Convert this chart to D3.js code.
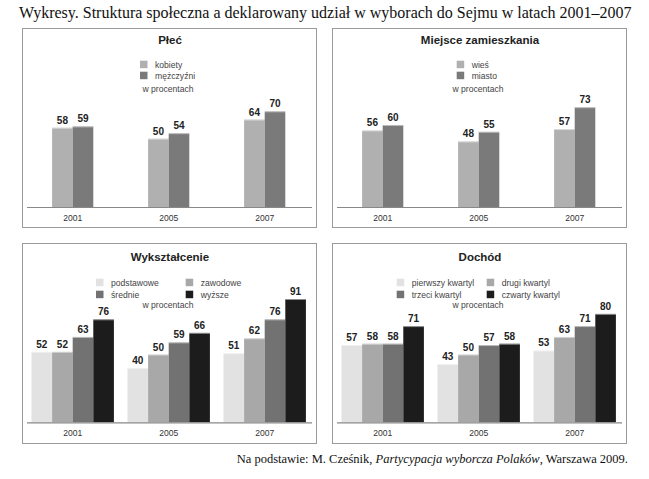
<!DOCTYPE html>
<html><head><meta charset="utf-8">
<script src="https://cdn.jsdelivr.net/npm/d3@7/dist/d3.min.js"></script>
<style>body{margin:0;background:#fff;} svg{display:block;}</style>
</head><body>
<script>
const years = ["2001", "2005", "2007"];

const plecTitle = "Płeć";
const plecSeries = ["kobiety", "mężczyźni"];
const plecValues = [[58, 50, 64], [59, 54, 70]];

const miejsceTitle = "Miejsce zamieszkania";
const miejsceSeries = ["wieś", "miasto"];
const miejsceValues = [[56, 48, 57], [60, 55, 73]];

const wyksztTitle = "Wykształcenie";
const wyksztSeries = ["podstawowe", "zawodowe", "średnie", "wyższe"];
const wyksztValues = [[52, 40, 51], [52, 50, 62], [63, 59, 76], [76, 66, 91]];

const dochodTitle = "Dochód";
const dochodSeries = ["pierwszy kwartyl", "drugi kwartyl", "trzeci kwartyl", "czwarty kwartyl"];
const dochodValues = [[57, 43, 53], [58, 50, 63], [58, 57, 71], [71, 58, 80]];

const unitLabel = "w procentach";
const mainTitle = "Wykresy. Struktura społeczna a deklarowany udział w wyborach do Sejmu w latach 2001–2007";

const W = 649, H = 479;
const svg = d3.select("body").append("svg").attr("width", W).attr("height", H);

svg.append("text").attr("x", 19).attr("y", 18)
  .attr("font-family", "Liberation Serif, Times New Roman, serif").attr("font-size", 16)
  .attr("fill", "#111").text(mainTitle);

const foot = svg.append("text").attr("x", 628).attr("y", 463).attr("text-anchor", "end")
  .attr("font-family", "Liberation Serif, Times New Roman, serif").attr("font-size", 12.5).attr("fill", "#111");
foot.append("tspan").text("Na podstawie: M. Cześnik, ");
foot.append("tspan").attr("font-style", "italic").text("Partycypacja wyborcza Polaków");
foot.append("tspan").text(", Warszawa 2009.");

const twoColors = ["#b0b0b0", "#7a7a7a"];
const fourColors = ["#e2e2e2", "#a8a8a8", "#727272", "#1c1c1c"];
const sans = "Liberation Sans, Arial, sans-serif";

function panel(cfg) {
  const g = svg.append("g").attr("transform", `translate(${cfg.x},${cfg.y})`);
  const pw = 294, ph = cfg.h;
  g.append("rect").attr("x", 0.5).attr("y", 0.5).attr("width", pw).attr("height", ph)
    .attr("fill", "#fff").attr("stroke", "#9a9a9a").attr("stroke-width", 1);
  g.append("text").attr("x", 148).attr("y", cfg.titleY).attr("text-anchor", "middle")
    .attr("font-family", sans).attr("font-weight", "bold").attr("font-size", 11.5)
    .attr("fill", "#222").text(cfg.title);

  // legend
  cfg.series.forEach((s, i) => {
    const col = cfg.cols === 2 ? i % 2 : 0;
    const row = cfg.cols === 2 ? Math.floor(i / 2) : i;
    const lx = cfg.legX[col], ly = cfg.legY[row];
    g.append("rect").attr("x", lx).attr("y", ly - 3.8).attr("width", 7.5).attr("height", 7.5)
      .attr("fill", cfg.colors[i]);
    g.append("text").attr("x", lx + 15).attr("y", ly + 3).attr("font-family", sans)
      .attr("font-size", 8.6).attr("fill", "#444").text(s);
  });
  g.append("text").attr("x", cfg.unitX).attr("y", cfg.unitY + 3).attr("text-anchor", "middle")
    .attr("font-family", sans).attr("font-size", 8.6).attr("fill", "#444").text(unitLabel);

  const base = cfg.base;
  const y = d3.scaleLinear().domain([0, 100]).range([base, base - cfg.k * 100]);
  const x0 = d3.scaleBand().domain(years).range([2.7, 290.7]).padding(0);
  const bw = 20.6;
  const n = cfg.series.length;
  const x1 = d3.scaleBand().domain(d3.range(n)).range([0, n * bw]).padding(0);

  years.forEach((yr, j) => {
    const gx = x0(yr) + (x0.bandwidth() - n * bw) / 2;
    cfg.series.forEach((s, i) => {
      const v = cfg.values[i][j];
      const bx = gx + x1(i);
      g.append("rect").attr("x", bx).attr("y", y(v)).attr("width", x1.bandwidth())
        .attr("height", base - y(v)).attr("fill", cfg.colors[i]);
      g.append("line").attr("x1", bx).attr("x2", bx + x1.bandwidth())
        .attr("y1", y(v) + 0.5).attr("y2", y(v) + 0.5).attr("stroke", "#ffffff").attr("stroke-opacity", 0.5).attr("stroke-width", 1);
      g.append("text").attr("x", bx + x1.bandwidth() / 2).attr("y", y(v) - 4)
        .attr("text-anchor", "middle").attr("font-family", sans).attr("font-weight", "bold")
        .attr("font-size", 10).attr("fill", "#222").text(v);
    });
  });

  g.append("line").attr("x1", 5).attr("x2", 290).attr("y1", base + 0.5).attr("y2", base + 0.5)
    .attr("stroke", "#888").attr("stroke-width", 1.2);

  const ax = g.append("g").attr("transform", `translate(0,${base})`)
    .call(d3.axisBottom(x0).tickSize(0).tickPadding(8));
  ax.select(".domain").remove();
  ax.selectAll("text").attr("font-family", sans).attr("font-size", 8.6).attr("fill", "#333");
}

panel({x: 22, y: 28, h: 199, title: plecTitle, titleY: 16, series: plecSeries, values: plecValues,
  colors: twoColors, cols: 1, legX: [118], legY: [36.5, 47.5], unitX: 146, unitY: 61, base: 179, k: 1.367});
panel({x: 332, y: 28, h: 199, title: miejsceTitle, titleY: 16, series: miejsceSeries, values: miejsceValues,
  colors: twoColors, cols: 1, legX: [124.7], legY: [36.5, 47.5], unitX: 146, unitY: 61, base: 179, k: 1.367});
panel({x: 22, y: 243, h: 200, title: wyksztTitle, titleY: 18, series: wyksztSeries, values: wyksztValues,
  colors: fourColors, cols: 2, legX: [74, 163.7], legY: [39.5, 51.5], unitX: 146, unitY: 62, base: 179.3, k: 1.355});
panel({x: 332, y: 243, h: 200, title: dochodTitle, titleY: 18, series: dochodSeries, values: dochodValues,
  colors: fourColors, cols: 2, legX: [64.7, 154.7], legY: [39.5, 51.5], unitX: 146, unitY: 62, base: 179.3, k: 1.355});
</script>
</body></html>
